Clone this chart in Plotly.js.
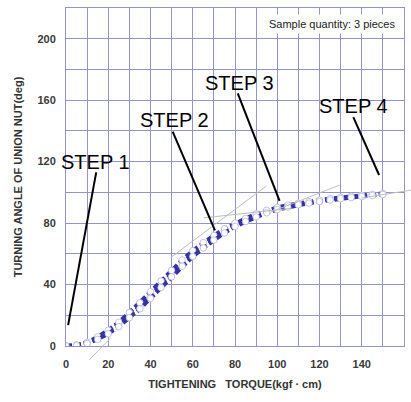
<!DOCTYPE html>
<html>
<head>
<meta charset="utf-8">
<script src="https://cdn.plot.ly/plotly-3.0.1.min.js"></script>
<style>html,body{margin:0;padding:0;background:#fff;}#chart{width:411px;height:402px;}</style>
</head>
<body>
<div id="chart"></div>
<script>
// Torque values (kgf·cm) at which the samples were measured
var torque = [0,5,10,15,20,25,30,35,40,45,50,55,60,65,70,75,80,85,90,95,100,105,110,115,120,125,130,135,140,145,150];
// Turning angle (deg) for the three samples
var sampleA = [0,0.5,2,5,9,14,20,26,33,40,47,54,60,65.5,70.5,75,79,82,85,87.5,89.5,91,92.5,93.5,94.5,95.5,96.3,97,97.7,98.3,99];
var sampleB = [0,0.7,2.5,6,10.3,15.5,21.8,28.2,35.3,42.3,49.2,56,62,67.3,72,76.3,80,83,86,88.3,90.2,91.7,93,94,95,96,96.8,97.5,98.1,98.7,99.3];
var sampleC = [0,0.3,1.6,4.3,8,12.6,18.4,24.2,31,38,45,52,58.2,63.8,69,73.6,77.8,81,84,86.7,88.8,90.4,91.9,93,94,95,95.9,96.6,97.3,97.9,98.6];

// Axis tick values and labels (grid every 10 / 20, labels every 20 / 40)
var xTickVals = [0,10,20,30,40,50,60,70,80,90,100,110,120,130,140,150,160];
var xTickText = ['0','','20','','40','','60','','80','','100','','120','','140','','160'];
var yTickVals = [0,20,40,60,80,100,120,140,160,180,200,220];
var yTickText = ['0','','40','','80','','120','','160','','200',''];

// Step labels and their leader lines [x0, y0, x1, y1]
var stepLabels = ["STEP 1","STEP 2","STEP 3","STEP 4"];
var stepLabelPos = [[13.8,120],[51.2,147],[82,171.5],[136,156]];
var stepLeaders = [[14.3,113,1,13.6],[50.5,139.5,70.5,75.2],[81.3,164.4,101.1,94.4],[136,149,148.2,111.3]];

// Thin grey tangent lines [x0, y0, x1, y1]
var tangents = [[11,-9,21,5],[49.5,57.5,94.8,104.1],[65.2,83.4,106.7,89.6],[97,87.2,129.5,104.7],[140,96.4,165,101.8]];

var xRange = [0,160], yRange = [0,220];
var gridColor = '#9292cd';

function mkTrace(y){
  return {
    x: torque, y: y, type:'scatter', mode:'lines+markers',
    line:{color:'#3434a0', width:4, dash:'6px,3px'},
    marker:{symbol:'circle', size:6.5, color:'#ffffff', line:{color:'#b4b4e0', width:0.8}},
    hoverinfo:'skip', showlegend:false
  };
}
var data = [mkTrace(sampleA), mkTrace(sampleB), mkTrace(sampleC)];

function dx(v){return (v-xRange[0])/(xRange[1]-xRange[0]);}
function dy(v){return (v-yRange[0])/(yRange[1]-yRange[0]);}

var shapes = [];
tangents.forEach(function(t){
  shapes.push({type:'line', xref:'x domain', yref:'y domain', x0:dx(t[0]), y0:dy(t[1]), x1:dx(t[2]), y1:dy(t[3]),
    line:{color:'#bdbdbd', width:1}, layer:'above'});
});
stepLeaders.forEach(function(s){
  shapes.push({type:'line', xref:'x', yref:'y', x0:s[0], y0:s[1], x1:s[2], y1:s[3],
    line:{color:'#000000', width:2}, layer:'above'});
});

var annotations = [];
stepLabels.forEach(function(t,i){
  annotations.push({text:t, x:stepLabelPos[i][0], y:stepLabelPos[i][1], xref:'x', yref:'y',
    showarrow:false, xanchor:'center', yanchor:'middle',
    font:{family:'Liberation Sans, Arial, sans-serif', size:20, color:'#000'}});
});
annotations.push({text:'Sample quantity: 3 pieces', x:157.6, y:209.5, xref:'x', yref:'y',
  showarrow:false, xanchor:'right', yanchor:'middle', bgcolor:'#ffffff', borderpad:3,
  font:{family:'Liberation Sans, Arial, sans-serif', size:11, color:'#222'}});

var tickFont = {family:'Liberation Sans, Arial, sans-serif', size:11, color:'#3a3a3a', weight:'bold'};
var titleFont = {family:'Liberation Sans, Arial, sans-serif', size:11, color:'#333', weight:'bold'};

var layout = {
  width:411, height:402,
  margin:{l:66, r:7, t:8, b:56},
  paper_bgcolor:'#ffffff', plot_bgcolor:'#ffffff',
  xaxis:{range:xRange, tickmode:'array', tickvals:xTickVals, ticktext:xTickText,
    showgrid:true, gridcolor:gridColor, gridwidth:1,
    zeroline:false, showline:true, linecolor:gridColor, linewidth:1, mirror:true,
    ticks:'', ticklabelstandoff:8, tickfont:tickFont, automargin:false,
    title:{text:'TIGHTENING\u00a0\u00a0\u00a0TORQUE(kgf \u00b7 cm)', font:titleFont, standoff:11}},
  yaxis:{range:yRange, tickmode:'array', tickvals:yTickVals, ticktext:yTickText,
    showgrid:true, gridcolor:gridColor, gridwidth:1,
    zeroline:false, showline:true, linecolor:gridColor, linewidth:1, mirror:true,
    ticks:'', ticklabelstandoff:7, tickfont:tickFont, automargin:false,
    title:{text:'TURNING ANGLE OF UNION NUT(deg)', font:titleFont, standoff:12}},
  shapes:shapes,
  annotations:annotations,
  showlegend:false
};

Plotly.newPlot('chart', data, layout, {staticPlot:true, displayModeBar:false});
</script>
</body>
</html>
